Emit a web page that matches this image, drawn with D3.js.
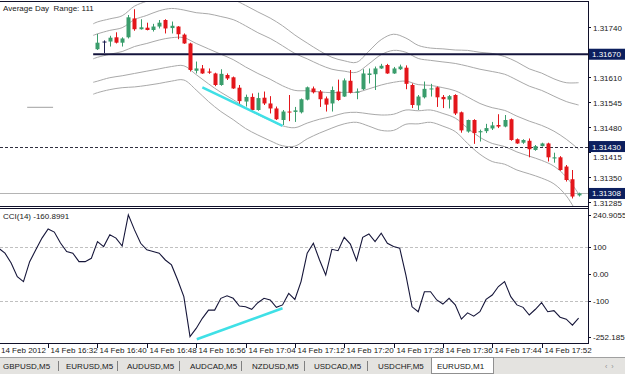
<!DOCTYPE html>
<html><head><meta charset="utf-8">
<script src="https://cdn.jsdelivr.net/npm/d3@7"></script>
<style>
html,body{margin:0;padding:0;background:#fff;overflow:hidden;}
svg{display:block;font-family:"Liberation Sans",Arial,sans-serif;}
text{white-space:pre;}
</style></head><body>
<svg id="c" width="625" height="374"></svg>
<script>
// ---------- DATA ----------
const startTime = new Date(2012, 1, 14, 16, 24); // first bar of the visible window (M1)
const firstCandle = 16; // bar index of first drawn candle
const opens  = [1.31683,1.31703,1.31703,1.31714,1.31700,1.31714,1.31763,1.31735,1.31739,1.31733,1.31742,1.31759,1.31738,1.31742,1.31721,1.31698,1.31627,1.31633,1.31625,1.31620,1.31590,1.31616,1.31610,1.31583,1.31547,1.31559,1.31525,1.31557,1.31542,1.31529,1.31499,1.31521,1.31520,1.31519,1.31552,1.31581,1.31573,1.31555,1.31542,1.31573,1.31560,1.31601,1.31570,1.31579,1.31616,1.31618,1.31633,1.31642,1.31620,1.31631,1.31635,1.31590,1.31537,1.31558,1.31579,1.31584,1.31559,1.31552,1.31564,1.31519,1.31469,1.31499,1.31467,1.31470,1.31477,1.31486,1.31482,1.31501,1.31449,1.31440,1.31445,1.31421,1.31431,1.31438,1.31399,1.31402,1.31378,1.31345,1.31303];
const highs  = [1.31723,1.31706,1.31718,1.31727,1.31714,1.31772,1.31787,1.31761,1.31752,1.31749,1.31759,1.31761,1.31755,1.31743,1.31724,1.31700,1.31651,1.31642,1.31633,1.31622,1.31631,1.31620,1.31612,1.31590,1.31565,1.31568,1.31570,1.31573,1.31561,1.31534,1.31525,1.31564,1.31533,1.31555,1.31586,1.31586,1.31577,1.31560,1.31586,1.31604,1.31607,1.31629,1.31581,1.31631,1.31633,1.31638,1.31645,1.31645,1.31637,1.31643,1.31641,1.31594,1.31564,1.31599,1.31593,1.31586,1.31564,1.31564,1.31566,1.31521,1.31500,1.31501,1.31474,1.31489,1.31494,1.31514,1.31512,1.31503,1.31451,1.31449,1.31451,1.31434,1.31440,1.31440,1.31414,1.31405,1.31382,1.31369,1.31310];
const lows   = [1.31681,1.31673,1.31690,1.31698,1.31690,1.31711,1.31731,1.31734,1.31732,1.31729,1.31737,1.31724,1.31724,1.31709,1.31697,1.31625,1.31620,1.31619,1.31619,1.31587,1.31588,1.31603,1.31580,1.31541,1.31534,1.31523,1.31523,1.31538,1.31516,1.31499,1.31486,1.31496,1.31494,1.31516,1.31550,1.31568,1.31533,1.31521,1.31521,1.31549,1.31559,1.31568,1.31553,1.31577,1.31594,1.31577,1.31632,1.31619,1.31619,1.31629,1.31579,1.31530,1.31525,1.31555,1.31560,1.31533,1.31530,1.31529,1.31512,1.31466,1.31466,1.31437,1.31443,1.31465,1.31473,1.31478,1.31480,1.31445,1.31437,1.31437,1.31402,1.31419,1.31430,1.31391,1.31388,1.31367,1.31339,1.31295,1.31300];
const closes = [1.31700,1.31703,1.31713,1.31700,1.31711,1.31766,1.31735,1.31740,1.31733,1.31742,1.31752,1.31737,1.31744,1.31722,1.31698,1.31629,1.31633,1.31620,1.31622,1.31590,1.31619,1.31607,1.31581,1.31548,1.31559,1.31525,1.31556,1.31542,1.31529,1.31501,1.31521,1.31519,1.31524,1.31553,1.31584,1.31571,1.31553,1.31539,1.31577,1.31551,1.31602,1.31570,1.31573,1.31620,1.31620,1.31633,1.31640,1.31620,1.31633,1.31638,1.31593,1.31538,1.31560,1.31580,1.31581,1.31558,1.31553,1.31561,1.31516,1.31472,1.31499,1.31465,1.31470,1.31478,1.31485,1.31482,1.31499,1.31447,1.31438,1.31447,1.31423,1.31431,1.31438,1.31402,1.31402,1.31369,1.31343,1.31300,1.31308];

const cciValues = [94,76,40,-10,-28,45,88,131,164,153,113,82,76,45,45,57,118,100,143,131,102,216,161,112,88,82,76,51,33,-22,-83,-229,-199,-162,-132,-132,-89,-80,-89,-117,-120,-129,-105,-89,-95,-122,-113,-71,-93,-28,76,112,51,-4,90,85,134,109,49,134,146,118,149,112,100,94,-4,-120,-138,-65,-65,-95,-110,-89,-113,-165,-142,-154,-138,-93,-77,-46,-28,-83,-113,-122,-150,-129,-105,-138,-134,-158,-165,-187,-161];

// Band lines (outer/inner upper, middle, inner/outer lower), sampled at these bar indices
const bandIdx = [15.3,16,18,20,22,24,26,28,30,32,34,36,38,40,42,44,46,48,50,52,54,56,58,60,62,64,66,68,70,72,74,76,78,80,82,84,86,88,90,92,94];
const upper3 = [1.31749,1.31754,1.31762,1.31770,1.31795,1.31808,1.31820,1.31826,1.31822,1.31819,1.31820,1.31818,1.31812,1.31797,1.31780,1.31764,1.31744,1.31720,1.31699,1.31679,1.31662,1.31653,1.31649,1.31678,1.31708,1.31722,1.31712,1.31693,1.31686,1.31684,1.31681,1.31680,1.31675,1.31672,1.31664,1.31650,1.31632,1.31621,1.31606,1.31596,1.31596];
const upper2 = [1.31719,1.31723,1.31732,1.31739,1.31760,1.31771,1.31783,1.31789,1.31785,1.31778,1.31775,1.31768,1.31760,1.31744,1.31726,1.31711,1.31692,1.31672,1.31658,1.31643,1.31631,1.31626,1.31623,1.31645,1.31669,1.31680,1.31675,1.31659,1.31654,1.31650,1.31646,1.31639,1.31631,1.31625,1.31618,1.31603,1.31587,1.31576,1.31561,1.31547,1.31538];
const middle = [1.31658,1.31662,1.31670,1.31677,1.31690,1.31698,1.31707,1.31713,1.31713,1.31698,1.31684,1.31670,1.31656,1.31637,1.31620,1.31605,1.31588,1.31576,1.31575,1.31572,1.31570,1.31571,1.31571,1.31580,1.31590,1.31597,1.31600,1.31591,1.31589,1.31583,1.31575,1.31559,1.31542,1.31531,1.31524,1.31509,1.31496,1.31485,1.31470,1.31449,1.31423];
const lower2 = [1.31597,1.31600,1.31609,1.31614,1.31620,1.31626,1.31632,1.31638,1.31640,1.31617,1.31593,1.31571,1.31552,1.31531,1.31513,1.31498,1.31484,1.31479,1.31491,1.31501,1.31508,1.31517,1.31519,1.31515,1.31512,1.31514,1.31525,1.31523,1.31525,1.31516,1.31504,1.31478,1.31454,1.31438,1.31430,1.31416,1.31405,1.31394,1.31379,1.31351,1.31307];
const lower3 = [1.31566,1.31570,1.31578,1.31583,1.31585,1.31589,1.31594,1.31600,1.31603,1.31577,1.31547,1.31521,1.31500,1.31477,1.31460,1.31445,1.31432,1.31431,1.31450,1.31465,1.31478,1.31489,1.31493,1.31483,1.31472,1.31472,1.31488,1.31489,1.31493,1.31483,1.31469,1.31438,1.31410,1.31391,1.31384,1.31369,1.31359,1.31348,1.31333,1.31302,1.31250];

const priceTicks = [1.31285,1.31350,1.31415,1.31480,1.31545,1.31610,1.31740];
const priceMarks = [1.31670,1.31430,1.31308];
const cciTicks = [240.9055,100,0,-100,-252.185];
const cciTickLabels = ["240.9055","100","0.00","-100","-252.185"];
const timeTickIdx = [0,8,16,24,32,40,48,56,64,72,80,88];
const timeTickLabels = ["14 Feb 2012","14 Feb 16:32","14 Feb 16:40","14 Feb 16:48","14 Feb 16:56","14 Feb 17:04","14 Feb 17:12","14 Feb 17:20","14 Feb 17:28","14 Feb 17:36","14 Feb 17:44","14 Feb 17:52"];
const tabs = ["GBPUSD,M5","EURUSD,M5","AUDUSD,M5","AUDCAD,M5","NZDUSD,M5","USDCAD,M5","USDCHF,M5","EURUSD,M1"];
const priceTrend = [[33,1.31584],[46,1.31484]];
const cciTrend = [[32.1,-238.5],[46,-125.3]];
const adrLine = [[4.6,1.31532],[8.8,1.31532]];
const headerText = "Average Day  Range: 111";
const cciTitle = "CCI(14) -160.8991";
const resistance = 1.31670, dashedLevel = 1.31430, bidLevel = 1.31308;

// ---------- SCALES ----------
const svg = d3.select("#c");
const minute = 60000;
const tAt = i => new Date(startTime.getTime() + i*minute);
const x = d3.scaleTime().domain([tAt(0), tAt(94)]).range([-1.2, 578.6]);
const xi = i => x(tAt(i));
const mainTop = 2, mainBot = 206, cciTop = 208, cciBot = 343, rightX = 588;
const y = d3.scaleLinear().domain([1.312754, 1.318058]).range([mainBot, mainTop]);
const yc = d3.scaleLinear().domain([-252.185, 240.9055]).range([cciBot, cciTop]);

const defs = svg.append("defs");
defs.append("clipPath").attr("id","mainClip").append("rect").attr("x",0).attr("y",mainTop).attr("width",rightX).attr("height",mainBot-mainTop);
defs.append("clipPath").attr("id","cciClip").append("rect").attr("x",0).attr("y",cciTop).attr("width",rightX).attr("height",cciBot-cciTop);

const main = svg.append("g").attr("clip-path","url(#mainClip)");

// bands
const bandLine = d3.line().x(d=>xi(d[0])).y(d=>y(d[1])).curve(d3.curveCatmullRom.alpha(0.5));
[upper3, upper2, middle, lower2, lower3].forEach(arr=>{
  const pts = bandIdx.map((b,k)=>[b, arr[k]]);
  main.append("path").attr("d",bandLine(pts)).attr("fill","none").attr("stroke","#a9a9a9").attr("stroke-width",1);
});

// adr small line
main.append("path").attr("d",d3.line().x(d=>xi(d[0])).y(d=>y(d[1]))(adrLine)).attr("stroke","#a0a0a0").attr("fill","none");

// horizontal levels
main.append("line").attr("x1",xi(15.3)).attr("x2",rightX).attr("y1",y(resistance)).attr("y2",y(resistance)).attr("stroke","#14143c").attr("stroke-width",2);
main.append("line").attr("x1",0).attr("x2",rightX).attr("y1",Math.round(y(dashedLevel))+0.5).attr("y2",Math.round(y(dashedLevel))+0.5).attr("stroke","#303040").attr("stroke-dasharray","3,2");
main.append("line").attr("x1",0).attr("x2",rightX).attr("y1",Math.round(y(bidLevel))+0.5).attr("y2",Math.round(y(bidLevel))+0.5).attr("stroke","#b4b4b4");

// candles
const up = "#3a9d6c", down = "#e3161b", doji = "#1e1e50";
const cg = main.append("g");
opens.forEach((o,k)=>{
  const i = firstCandle + k, c = closes[k], h = highs[k], l = lows[k];
  const col = c > o ? up : (c < o ? down : doji);
  const cx = Math.round(xi(i));
  cg.append("line").attr("x1",cx+0.5).attr("x2",cx+0.5).attr("y1",y(h)).attr("y2",y(l)).attr("stroke",col).attr("stroke-width",1);
  const top = y(Math.max(o,c)), bot = y(Math.min(o,c));
  cg.append("rect").attr("x",cx-1.5).attr("width",4).attr("y",top).attr("height",Math.max(1,bot-top)).attr("fill",col);
});

// cyan trend line on price
main.append("path").attr("d",d3.line().x(d=>xi(d[0])).y(d=>y(d[1]))(priceTrend)).attr("stroke","#3fe0e6").attr("stroke-width",2.5).attr("fill","none");

// header text
svg.append("text").attr("x",3).attr("y",11).attr("font-size",8).attr("fill","#202020").text(headerText);

// ---------- CCI PANEL ----------
const cci = svg.append("g").attr("clip-path","url(#cciClip)");
[100,-100].forEach(v=>{
  cci.append("line").attr("x1",0).attr("x2",rightX).attr("y1",Math.round(yc(v))+0.5).attr("y2",Math.round(yc(v))+0.5).attr("stroke","#c0c0c0").attr("stroke-dasharray","3,2");
});
cci.append("path").attr("d",d3.line().x((d,i)=>xi(i)).y(d=>yc(d))(cciValues)).attr("fill","none").attr("stroke","#16163a").attr("stroke-width",1.1);
cci.append("path").attr("d",d3.line().x(d=>xi(d[0])).y(d=>yc(d[1]))(cciTrend)).attr("stroke","#3fe0e6").attr("stroke-width",2.5).attr("fill","none");
svg.append("text").attr("x",3).attr("y",219).attr("font-size",8).attr("fill","#202020").text(cciTitle);

// ---------- FRAMES ----------
const fr = svg.append("g").attr("stroke","#10102a").attr("stroke-width",1);
fr.append("line").attr("x1",0).attr("x2",rightX).attr("y1",1.5).attr("y2",1.5);
fr.append("line").attr("x1",0).attr("x2",rightX).attr("y1",206.5).attr("y2",206.5);
fr.append("line").attr("x1",0).attr("x2",rightX).attr("y1",208.5).attr("y2",208.5);
fr.append("line").attr("x1",0).attr("x2",rightX).attr("y1",343.5).attr("y2",343.5);
fr.append("line").attr("x1",rightX+0.5).attr("x2",rightX+0.5).attr("y1",1).attr("y2",344);

// price axis
const pa = svg.append("g").attr("font-size",8).attr("fill","#202020");
priceTicks.forEach(v=>{
  const yy = Math.round(y(v))+0.5;
  pa.append("line").attr("x1",rightX).attr("x2",rightX+3).attr("y1",yy).attr("y2",yy).attr("stroke","#10102a");
  const shift = Math.abs(v-1.31415)<1e-7 ? 4 : 0; // partly hidden under the 1.31430 marker
  pa.append("text").attr("x",593).attr("y",yy+3+shift).text(d3.format(".5f")(v));
});
priceMarks.forEach(v=>{
  const yy = y(v);
  pa.append("rect").attr("x",589).attr("y",yy-5.5).attr("width",36).attr("height",11).attr("fill","#0c1f5e");
  pa.append("text").attr("x",592).attr("y",yy+3).attr("fill","#fff").text(d3.format(".5f")(v));
});
// cci axis
cciTicks.forEach((v,k)=>{
  let yy = yc(v);
  if (k===0) yy = 215; if (k===4) yy = 337;
  pa.append("line").attr("x1",rightX).attr("x2",rightX+3).attr("y1",Math.round(yy)+0.5).attr("y2",Math.round(yy)+0.5).attr("stroke","#10102a");
  pa.append("text").attr("x",593).attr("y",yy+3).text(cciTickLabels[k]);
});

// time axis
const ta = svg.append("g").attr("font-size",8).attr("fill","#202020");
timeTickIdx.forEach((i,k)=>{
  const xx = Math.round(xi(i))+0.5;
  if (k>0) ta.append("line").attr("x1",xx).attr("x2",xx).attr("y1",344).attr("y2",348).attr("stroke","#10102a");
  ta.append("text").attr("x",k===0?1:xx+2).attr("y",353).text(timeTickLabels[k]);
});

// ---------- TAB BAR ----------
const tb = svg.append("g");
tb.append("rect").attr("x",0).attr("y",357).attr("width",625).attr("height",17).attr("fill","#e4e3e0");
tb.append("line").attr("x1",0).attr("x2",625).attr("y1",357.5).attr("y2",357.5).attr("stroke","#a0a0a0");
const tabX = [3,66,127,190,252,314,378,437];
const sepX = [58,117,179,241,304,367];
sepX.forEach(s=>tb.append("line").attr("x1",s+0.5).attr("x2",s+0.5).attr("y1",361).attr("y2",371).attr("stroke","#808080"));
tb.append("rect").attr("x",431.5).attr("y",357.5).attr("width",62).attr("height",16).attr("fill","#fff").attr("stroke","#909090");
tabs.forEach((t,k)=>tb.append("text").attr("x",tabX[k]).attr("y",369).attr("font-size",8).attr("fill","#202020").text(t));
tb.append("text").attr("x",605).attr("y",369).attr("font-size",7).attr("fill","#909090").text("‹  ›");
</script>
</body></html>
